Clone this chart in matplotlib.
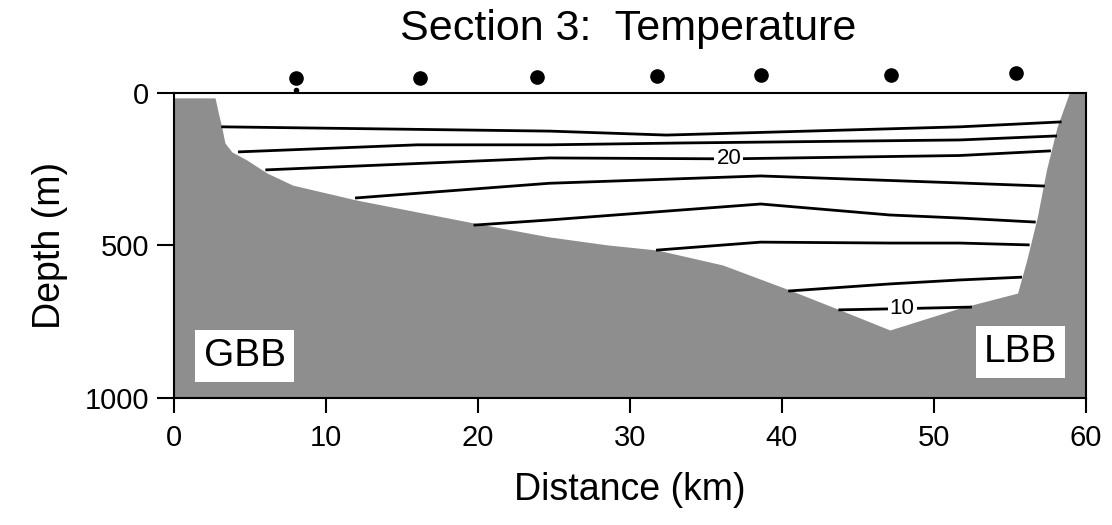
import numpy as np
import matplotlib.pyplot as plt

plt.rcParams['font.family'] = ['Liberation Sans', 'DejaVu Sans']

# station positions (km) and the height of their markers above the surface (m)
station_km = [8.0, 16.2, 23.9, 31.8, 38.6, 47.2, 55.4]
station_mark = [-49, -49, -52, -56, -59, -59, -66]

# bottom profile
bottom_km = [0, 2.7, 2.9, 3.15, 3.35, 3.8, 4.8, 6.1, 7.8, 12.0, 19.7, 24.7, 28.5,
             31.8, 36.1, 40.5, 43.8, 47.1, 51.7, 55.5, 56.1, 56.8, 57.4, 58.1, 58.9, 60]
bottom_depth = [16, 16, 62, 115, 164, 193, 220, 262, 302, 351, 426, 472, 498,
                515, 564, 646, 711, 777, 705, 656, 548, 406, 252, 111, 0, 0]

# isotherms, degrees C
t24_km = [3.2, 24.7, 32.4, 51.7, 58.3]
t24_depth = [111, 125, 138, 111, 95]
t22_km = [4.3, 16.0, 24.7, 33.3, 51.7, 58.0]
t22_depth = [193, 170, 170, 164, 154, 141]
t20_km = [6.1, 24.7, 36.5, 51.7, 57.6]
t20_depth = [252, 213, 216, 205, 190]
t18_km = [12.0, 24.7, 38.6, 51.7, 57.2]
t18_depth = [344, 296, 272, 295, 305]
t16_km = [19.8, 24.5, 38.6, 47.1, 51.7, 56.6]
t16_depth = [433, 417, 364, 400, 410, 423]
t14_km = [31.8, 38.6, 47.1, 51.7, 56.2]
t14_depth = [515, 489, 492, 492, 498]
t12_km = [40.5, 47.1, 51.7, 55.7]
t12_depth = [649, 626, 613, 604]
t10_km = [43.8, 47.9, 52.4]
t10_depth = [711, 707, 702]

levels = [24, 22, 20, 18, 16, 14, 12, 10]
label_levels = [20, 10]
label_km = [36.5, 47.9]

isotherms = {24: (t24_km, t24_depth), 22: (t22_km, t22_depth),
             20: (t20_km, t20_depth), 18: (t18_km, t18_depth),
             16: (t16_km, t16_depth), 14: (t14_km, t14_depth),
             12: (t12_km, t12_depth), 10: (t10_km, t10_depth)}

fig = plt.figure(figsize=(11.12, 5.25), dpi=100)
ax = fig.add_axes([0.1565, 0.2419, 0.8201, 0.5810])

ax.fill_between(bottom_km, bottom_depth, 1000, color='#8e8e8e', lw=0, zorder=1)

for lev in levels:
    km, dep = isotherms[lev]
    ax.plot(km, dep, color='black', lw=2.0, zorder=2)

for lev, xk in zip(label_levels, label_km):
    km, dep = isotherms[lev]
    yd = np.interp(xk, km, dep)
    ax.text(xk, yd, str(lev), fontsize=16, ha='center', va='center', zorder=3,
            bbox=dict(facecolor='white', edgecolor='none', pad=1.5))

# stations along the top
ax.plot(station_km, station_mark, 'o', color='black', ms=9.5, clip_on=False, zorder=4)
ax.plot([station_km[0]], [-10], 'o', color='black', ms=3, clip_on=False, zorder=4)

ax.text(4.64, 862, 'GBB', fontsize=28, ha='center', va='center', zorder=3,
        bbox=dict(facecolor='white', edgecolor='none', pad=6))
ax.text(55.7, 850, 'LBB', fontsize=28, ha='center', va='center', zorder=3,
        bbox=dict(facecolor='white', edgecolor='none', pad=6))

ax.set_xlim(0, 60)
ax.set_ylim(1000, 0)
ax.set_xticks(range(0, 61, 10))
ax.set_yticks([0, 500, 1000])
ax.tick_params(axis='both', direction='out', width=1.5, labelsize=21)
ax.tick_params(axis='x', length=11, pad=8)
ax.tick_params(axis='y', length=12, pad=6)
for s in ax.spines.values():
    s.set_linewidth(1.5)

ax.set_xlabel('Distance (km)', fontsize=27, labelpad=14)
ax.set_ylabel('Depth (m)', fontsize=27, labelpad=12)
fig.text(0.565, 0.924, 'Section 3:  Temperature', fontsize=31, ha='center', va='baseline')

fig.savefig('out.png', dpi=100)
